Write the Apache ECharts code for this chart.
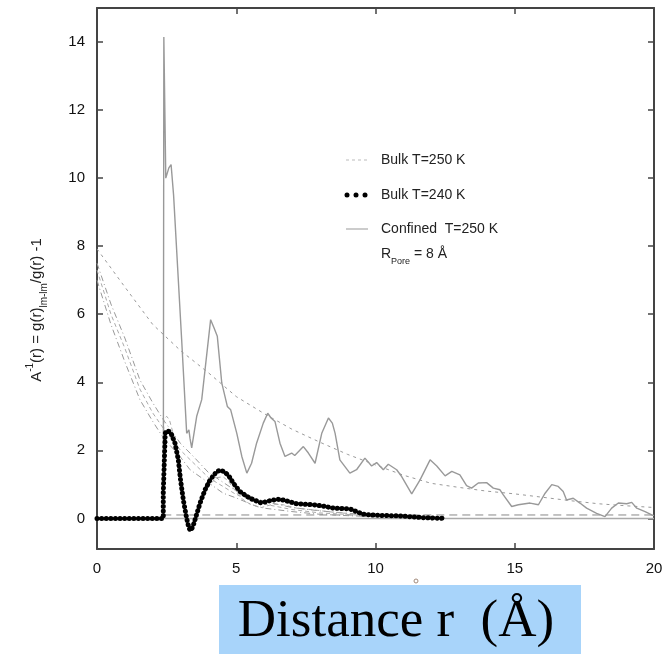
<!DOCTYPE html>
<html>
<head>
<meta charset="utf-8">
<script src="https://cdn.jsdelivr.net/npm/echarts@6/dist/echarts.min.js"></script>
<style>
  html, body { margin: 0; padding: 0; background: #fff; }
  #main { width: 669px; height: 654px; }
</style>
</head>
<body>
<div id="main"></div>
<script>
// r (Angstrom) -> g(r)lm-lm/g(r) - 1
var confined = [[0, 0], [2.38, 0], [2.40, 14.15], [2.44, 14.17], [2.47, 10.0], [2.51, 10.0], [2.58, 10.3], [2.66, 10.4],
  [2.75, 9.5], [2.9, 7.3], [3.04, 5.25], [3.22, 2.5], [3.3, 2.6], [3.34, 2.35], [3.40, 2.07], [3.58, 3.0], [3.76, 3.49],
  [3.88, 4.37], [4.08, 5.84], [4.2, 5.6], [4.32, 5.35], [4.48, 3.98], [4.68, 3.29], [4.8, 3.19], [5.02, 2.5], [5.2, 1.82],
  [5.38, 1.33], [5.55, 1.62], [5.73, 2.21], [5.97, 2.8], [6.13, 3.09], [6.25, 2.95], [6.39, 2.85], [6.57, 2.21], [6.75, 1.82],
  [6.99, 1.92], [7.1, 1.85], [7.17, 1.87], [7.41, 2.11], [7.59, 1.92], [7.83, 1.62], [8.07, 2.5], [8.31, 2.95], [8.45, 2.8],
  [8.55, 2.5], [8.72, 1.72], [9.08, 1.33], [9.32, 1.43], [9.62, 1.77], [9.86, 1.54], [10.04, 1.64], [10.28, 1.43],
  [10.46, 1.59], [10.76, 1.43], [10.94, 1.23], [11.3, 0.72], [11.6, 1.13], [11.96, 1.72], [12.2, 1.54], [12.5, 1.25],
  [12.74, 1.38], [13.03, 1.28], [13.27, 0.96], [13.45, 0.89], [13.69, 1.04], [13.99, 1.05], [14.23, 0.89], [14.47, 0.84],
  [14.59, 0.69], [14.89, 0.35], [15.13, 0.4], [15.55, 0.45], [15.85, 0.4], [16.09, 0.74], [16.33, 0.99], [16.56, 0.94],
  [16.74, 0.79], [16.86, 0.54], [17.1, 0.59], [17.34, 0.45], [17.58, 0.3], [17.94, 0.15], [18.24, 0.05], [18.48, 0.3],
  [18.72, 0.45], [19.02, 0.43], [19.2, 0.47], [19.38, 0.3], [19.68, 0.2], [19.92, 0.1], [20, 0.08]]

var bulk240 = [[0, 0], [2.38, 0], [2.38, 0.76], [2.45, 2.5], [2.5, 2.58], [2.6, 2.55], [2.68, 2.46], [2.8, 2.21],
  [2.92, 1.72], [3.0, 1.13], [3.1, 0.54], [3.22, 0], [3.3, -0.28], [3.36, -0.36], [3.44, -0.25], [3.52, -0.04],
  [3.7, 0.45], [3.88, 0.84], [4.06, 1.13], [4.3, 1.38], [4.45, 1.42], [4.53, 1.38], [4.71, 1.28], [4.89, 1.04],
  [5.13, 0.79], [5.49, 0.59], [5.91, 0.45], [6.1, 0.5], [6.33, 0.54], [6.5, 0.56], [6.69, 0.54], [7.17, 0.43],
  [7.77, 0.40], [8.13, 0.36], [8.49, 0.3], [9.08, 0.28], [9.56, 0.12], [10.0, 0.09], [10.52, 0.08], [10.76, 0.08],
  [11.72, 0.02], [12.5, 0]]

var bulk250 = [[0, 0], [2.38, 0], [2.40, 2.9], [2.5, 3.0], [2.6, 2.9], [2.8, 2.3], [3.0, 1.1], [3.22, 0], [3.36, -0.3],
  [3.52, -0.05], [3.7, 0.4], [3.88, 0.75], [4.06, 1.0], [4.3, 1.2], [4.53, 1.22], [4.71, 1.1], [4.89, 0.9], [5.13, 0.62],
  [5.49, 0.42], [5.91, 0.32], [6.33, 0.42], [6.69, 0.4], [7.17, 0.3], [7.77, 0.25], [8.49, 0.18], [9.08, 0.14], [9.6, 0.1]]

// exponential envelopes
var envConfined = [[0, 7.92], [1, 6.8], [2, 5.7], [3, 4.93], [4, 4.28], [5, 3.58], [6, 3.08], [7, 2.62], [8, 2.24],
  [9, 1.88], [10, 1.57], [11, 1.27], [12, 1.03], [13, 0.91], [14, 0.80], [15, 0.72], [16, 0.62], [17, 0.52],
  [18, 0.43], [19, 0.37], [20, 0.32]]
var envA = [[0, 7.5], [0.5, 6.3], [1, 5.3], [1.54, 4.07], [2, 3.4], [2.38, 2.9], [3, 2.2], [3.46, 1.82], [4, 1.35],
  [5, 0.8], [6, 0.5], [7, 0.32], [8, 0.22], [9, 0.15], [10, 0.1], [11, 0.07], [12, 0.05]]
var envB = [[0, 7.0], [0.5, 5.7], [1, 4.6], [1.54, 3.49], [2, 2.85], [2.38, 2.37], [3, 1.8], [3.34, 1.43], [4, 1.05],
  [4.53, 0.74], [5, 0.6], [5.73, 0.35], [6, 0.3], [7, 0.2], [8, 0.12], [9, 0.08], [10, 0.05]]
var envC = [[0, 7.3], [0.5, 6.0], [1, 5.0], [1.54, 3.8], [2, 3.1], [2.38, 2.65], [3, 2.0], [4, 1.2], [5, 0.7],
  [6, 0.42], [7, 0.26], [8, 0.16], [10, 0.07]]

var zeroLine = [[0, 0], [20, 0]]
var bulkTail = [[2.38, 0.1], [20, 0.1]]

var xTicks = [0, 5, 10, 15, 20]
var yTicks = [0, 2, 4, 6, 8, 10, 12, 14]

var frame = '#444'
var font = 'Liberation Sans'

function lineSeries (data, color, width, type, z) {
  return {
    type: 'line',
    data: data,
    showSymbol: false,
    silent: true,
    z: z || 2,
    lineStyle: { color: color, width: width, type: type }
  }
}

// one side of the box frame, ticks pointing inwards
function frameAxis (pos, min, max, ticks, labels) {
  return {
    type: 'value', min: min, max: max, position: pos,
    axisLine: { onZero: false, lineStyle: { color: frame, width: 2 } },
    axisTick: { inside: true, length: 6, lineStyle: { color: frame, width: 1.5 }, customValues: ticks },
    axisLabel: labels ? { customValues: ticks, margin: 12, fontSize: 15, color: '#111', fontFamily: font } : { show: false },
    splitLine: { show: false }
  }
}

var chart = echarts.init(document.getElementById('main'))

var option = {
  animation: false,
  grid: { left: 97, right: 15, top: 8, bottom: 105 },
  xAxis: [frameAxis('bottom', 0, 20, xTicks, true), frameAxis('top', 0, 20, xTicks, false)],
  yAxis: [frameAxis('left', -0.9, 15, yTicks, true), frameAxis('right', -0.9, 15, yTicks, false)],
  series: [
    lineSeries(zeroLine, '#aaa', 1.5, 'solid'),
    lineSeries(bulkTail, '#888', 1, [8, 5]),
    lineSeries(envConfined, '#999', 1, [3, 4]),
    lineSeries(envA, '#999', 1, [6, 3, 1, 3]),
    lineSeries(envC, '#aaa', 1, [4, 3]),
    lineSeries(envB, '#999', 1, [6, 3, 1, 3]),
    lineSeries(bulk250, '#aaa', 1, [4, 3]),
    lineSeries(confined, '#999', 1.4, 'solid', 3),
    {
      type: 'line',
      data: bulk240,
      showSymbol: false,
      silent: true,
      z: 4,
      lineStyle: { color: '#000', width: 5, type: [0.1, 4.5], cap: 'round' }
    }
  ],
  graphic: [
    // legend
    { type: 'line', shape: { x1: 346, y1: 160, x2: 368, y2: 160 }, style: { stroke: '#bbb', lineWidth: 1, lineDash: [3, 3] } },
    { type: 'circle', shape: { cx: 347, cy: 195, r: 2.5 }, style: { fill: '#000' } },
    { type: 'circle', shape: { cx: 356, cy: 195, r: 2.5 }, style: { fill: '#000' } },
    { type: 'circle', shape: { cx: 365, cy: 195, r: 2.5 }, style: { fill: '#000' } },
    { type: 'line', shape: { x1: 346, y1: 229, x2: 368, y2: 229 }, style: { stroke: '#aaa', lineWidth: 1.2 } },
    { type: 'text', style: { text: 'Bulk T=250 K', x: 381, y: 160, verticalAlign: 'middle', font: '14px ' + font, fill: '#222' } },
    { type: 'text', style: { text: 'Bulk T=240 K', x: 381, y: 195, verticalAlign: 'middle', font: '14px ' + font, fill: '#222' } },
    { type: 'text', style: { text: 'Confined  T=250 K', x: 381, y: 229, verticalAlign: 'middle', font: '14px ' + font, fill: '#222' } },
    {
      type: 'text',
      style: {
        text: 'R{sub|Pore} = 8 Å', x: 381, y: 254, verticalAlign: 'middle',
        font: '14px ' + font, fill: '#222', lineHeight: 24,
        rich: { sub: { fontSize: 9, fontFamily: font, verticalAlign: 'bottom', lineHeight: 24 } }
      }
    },
    // y axis name
    {
      type: 'text',
      x: 37, y: 310, rotation: Math.PI / 2,
      style: {
        text: 'A{sup|-1}(r) = g(r){sub|lm-lm}/g(r) -1', x: 0, y: 0, align: 'center', verticalAlign: 'middle',
        font: '15px ' + font, fill: '#222', lineHeight: 24,
        rich: {
          sup: { fontSize: 10, fontFamily: font, verticalAlign: 'top', lineHeight: 24 },
          sub: { fontSize: 10, fontFamily: font, verticalAlign: 'bottom', lineHeight: 24 }
        }
      }
    },
    // x axis title box
    { type: 'circle', shape: { cx: 416, cy: 581, r: 2 }, style: { fill: 'none', stroke: '#a08878', lineWidth: 1 } },
    { type: 'rect', shape: { x: 219, y: 585, width: 362, height: 69 }, style: { fill: '#a8d4fa' } },
    { type: 'text', style: { text: 'Distance r  (Å)', x: 396, y: 622, align: 'center', verticalAlign: 'middle', font: '53px Liberation Serif', fill: '#000' } }
  ]
}

chart.setOption(option)
</script>
</body>
</html>
